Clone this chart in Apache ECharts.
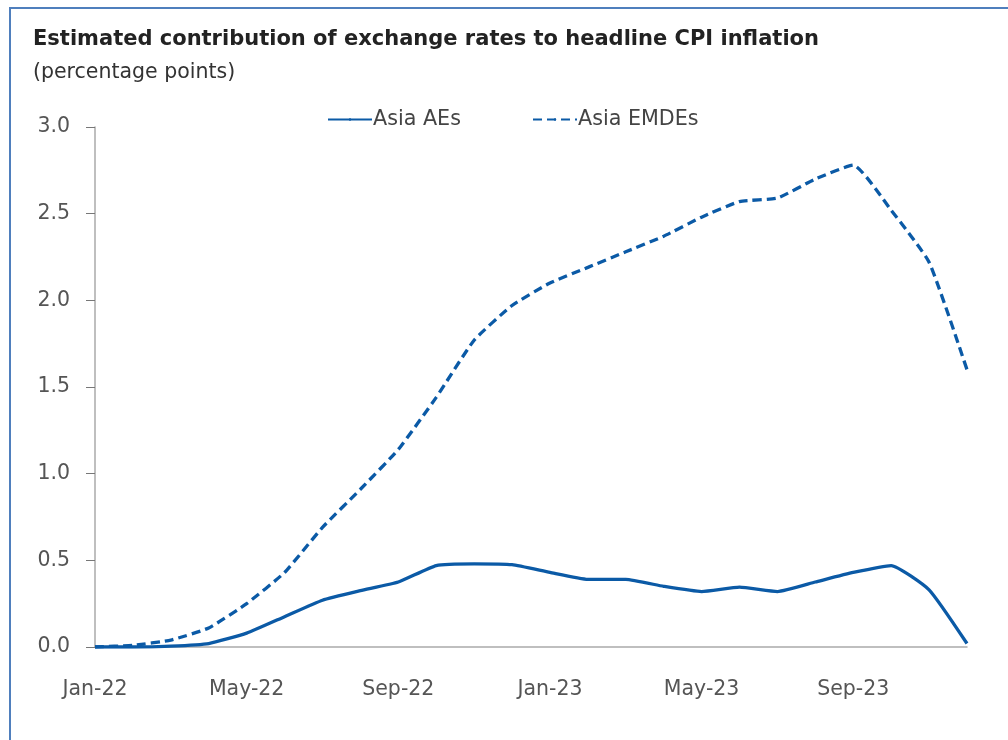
<!DOCTYPE html>
<html><head><meta charset="utf-8">
<script src="https://cdn.jsdelivr.net/npm/echarts@6/dist/echarts.min.js"></script>
<style>html,body{margin:0;padding:0;background:#fff}#c{width:1008px;height:740px}</style>
</head><body><div id="c"></div>
<script>
const months = ['Jan-22','Feb-22','Mar-22','Apr-22','May-22','Jun-22','Jul-22','Aug-22','Sep-22','Oct-22','Nov-22','Dec-22',
                'Jan-23','Feb-23','Mar-23','Apr-23','May-23','Jun-23','Jul-23','Aug-23','Sep-23','Oct-23','Nov-23','Dec-23'];
const asiaAEs = [0.00,0.00,0.005,0.02,0.08,0.175,0.27,0.325,0.375,0.47,0.48,0.475,
                 0.43,0.39,0.39,0.35,0.32,0.345,0.32,0.375,0.43,0.47,0.33,0.02];
const asiaEMDEs = [0.00,0.01,0.04,0.11,0.25,0.43,0.69,0.91,1.14,1.44,1.77,1.97,
                   2.10,2.19,2.28,2.37,2.48,2.57,2.59,2.70,2.78,2.52,2.22,1.60];
const yTicks = [0,0.5,1,1.5,2,2.5,3];
const COLOR = '#0b5aa6';
const FONT = 'DejaVu Sans';
const chart = echarts.init(document.getElementById('c'));
const legTxt = {fontFamily:FONT,fontSize:20.7,color:'#444',padding:[0,0,0,-4]};
chart.setOption({
  animation:false,
  textStyle:{fontFamily:FONT},
  graphic:[{type:'rect',shape:{x:10,y:8,width:1100,height:800},style:{fill:'none',stroke:'#4f7fbd',lineWidth:2}}],
  title:[{text:'Estimated contribution of exchange rates to headline CPI inflation',left:28,top:24,
          textStyle:{fontFamily:FONT,fontWeight:'bold',fontSize:21,color:'#222'}},
         {text:'(percentage points)',left:28,top:57,textStyle:{fontFamily:FONT,fontWeight:'normal',fontSize:20.5,color:'#333'}}],
  legend:[{top:104,left:322,itemWidth:44,itemHeight:3,textStyle:legTxt,data:['Asia AEs']},
          {top:104,left:527,itemWidth:44,itemHeight:3,textStyle:legTxt,data:['Asia EMDEs']}],
  grid:{left:95,right:41,top:127,bottom:93,containLabel:false},
  xAxis:{type:'category',data:months,boundaryGap:false,
         axisLine:{lineStyle:{color:'#aaa',width:1.5}},axisTick:{show:false},
         axisLabel:{interval:3,color:'#555',fontSize:20.5,margin:32}},
  yAxis:{type:'value',min:0,max:3,interval:0.5,
         axisLine:{show:true,lineStyle:{color:'#aaa',width:1.5}},
         axisTick:{show:true,length:9,lineStyle:{color:'#777'}},
         splitLine:{show:false},
         axisLabel:{color:'#555',fontSize:20.5,margin:25,padding:[4,0,0,0],formatter:v=>v.toFixed(1)}},
  series:[
    {name:'Asia AEs',type:'line',data:asiaAEs,symbol:'none',smooth:0.15,
     lineStyle:{color:COLOR,width:3.3},itemStyle:{color:COLOR}},
    {name:'Asia EMDEs',type:'line',data:asiaEMDEs,symbol:'none',smooth:0.15,
     lineStyle:{color:COLOR,width:3.3,type:[9,5]},itemStyle:{color:COLOR}}
  ]
});
</script></body></html>
